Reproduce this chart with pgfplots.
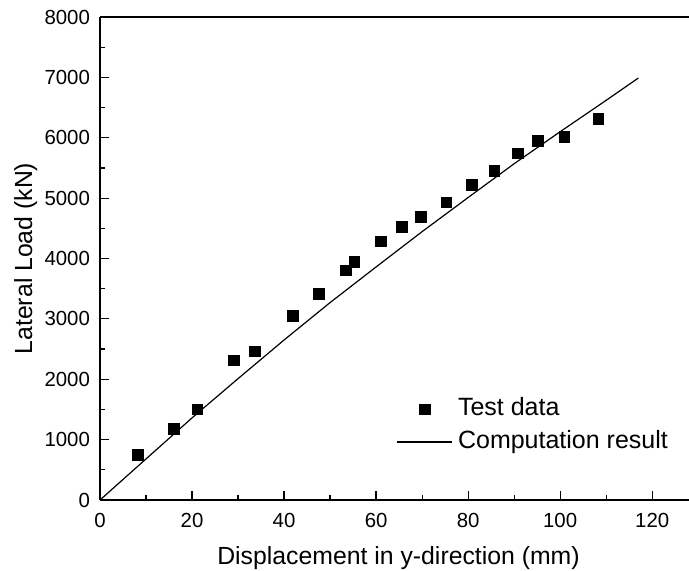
\documentclass[border=0pt]{standalone}
\usepackage{fontspec}
\setmainfont{Liberation Sans}
\usepackage{pgfplots}
\pgfplotsset{compat=1.18}
\usetikzlibrary{calc}

\pgfplotsset{
    sqlegend/.style={legend image code/.code={\draw[mark repeat=2,mark phase=2,##1] plot coordinates {(0pt,0pt) (13.75pt,0pt) (27.5pt,0pt)};}},
    linelegend/.style={legend image code/.code={\draw[##1] (0pt,0pt) -- (27.5pt,0pt);}},
}

\begin{document}
\begin{tikzpicture}
\begin{axis}[
    scale only axis,
    width=294.5pt, height=241.5pt,
    xmin=0, xmax=128, ymin=0, ymax=8000,
    axis x line*=bottom, axis y line*=left,
    axis line style={line width=0.7pt},
    clip=false,
    xtick={0,20,...,120}, ytick={0,1000,...,8000},
    minor x tick num=1, minor y tick num=1,
    tick align=inside,
    major tick length=4.7pt, minor tick length=2.5pt,
    tick style={line width=0.6pt, black},
    /pgf/number format/assume math mode=true,
    /pgf/number format/set thousands separator={},
    tick label style={font=\fontsize{10.2}{12}\selectfont},
    xticklabel style={yshift=-3pt},
    yticklabel style={xshift=-1.5pt},
    label style={font=\fontsize{12.4}{15}\selectfont},
    xlabel={Displacement in y-direction (mm)},
    ylabel={Lateral Load (kN)},
    xlabel style={at={(axis description cs:0.5,0)}, anchor=base, yshift=-32.5pt, xshift=2pt},
    ylabel style={at={(axis description cs:-0.1154,0.5)}, anchor=base},
    legend style={draw=none, fill=none, inner sep=0pt, outer sep=0pt,
        at={(rel axis cs:0.504,0.154)}, anchor=west,
        font=\fontsize{12.5}{15}\selectfont,
        nodes={inner sep=0pt, text height=9pt, text depth=2.5pt},
        row sep=4.9pt,
        /tikz/every odd column/.append style={column sep=2.5pt}},
    legend cell align=left,
]
\addplot[only marks, mark=square*, mark size=2.65pt, black, sqlegend]
coordinates {
(8.3,750) (16.0,1180) (21.2,1500) (29.1,2310) (33.7,2460) (41.9,3050)
(47.6,3410) (53.5,3800) (55.3,3940) (61.1,4280) (65.6,4520) (69.8,4685)
(75.3,4930) (80.8,5220) (85.7,5450) (90.8,5740) (95.1,5945) (100.9,6017)
(108.3,6310)
};
\addlegendentry{Test data}
\addplot[black, line width=0.6pt, no marks, linelegend]
coordinates {
(0,0) (10,680) (20,1360) (30,2010) (40,2650) (50,3270) (60,3860)
(70,4445) (80,5010) (90,5570) (100,6100) (110,6620) (117,6990)
};
\addlegendentry{Computation result}
\draw[line width=0.7pt] (rel axis cs:0,1) -- (rel axis cs:1,1);
\coordinate (SW) at (rel axis cs:0,0);
\coordinate (NE) at (rel axis cs:1,1);
\end{axis}
\pgfresetboundingbox
\path ($(SW)+(-50pt,-35.5pt)$) rectangle ($(NE)+(0,8.5pt)$);
\end{tikzpicture}
\end{document}
